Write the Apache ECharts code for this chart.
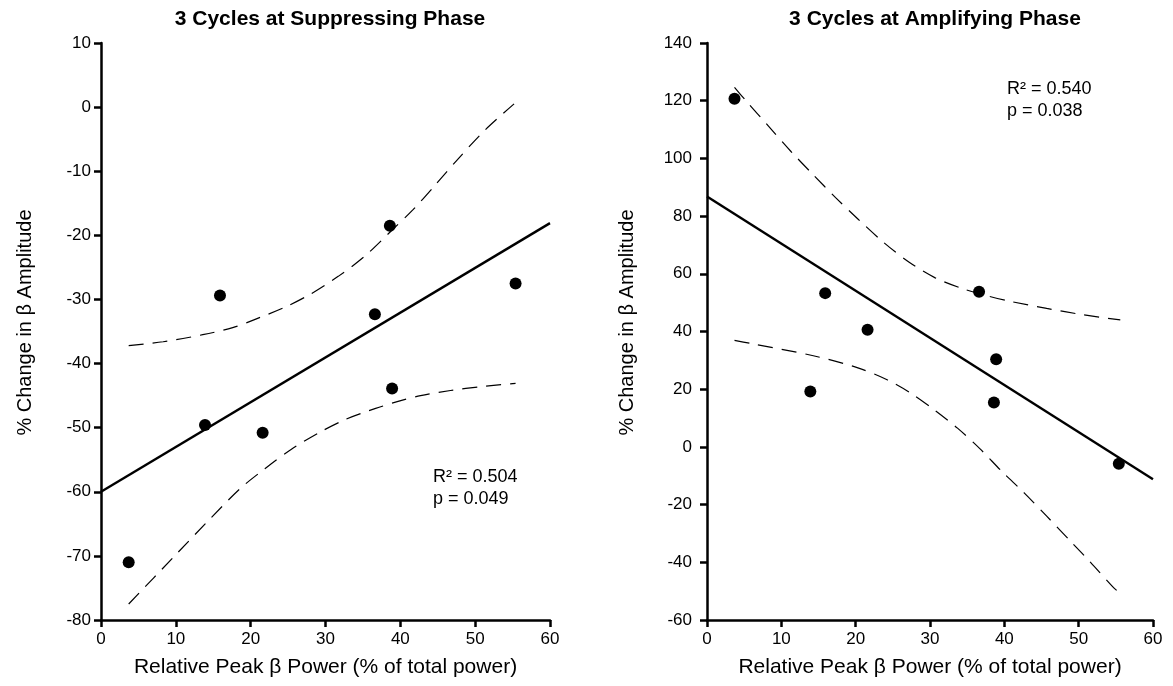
<!DOCTYPE html>
<html><head><meta charset="utf-8">
<script src="https://cdn.jsdelivr.net/npm/echarts@6/dist/echarts.min.js"></script>
<style>html,body{margin:0;padding:0;background:#fff}#c{width:1173px;height:686px}</style>
</head><body><div id="c"></div>
<script>
// shared x values (relative peak beta power, %)
const peakPower = [3.7, 13.9, 15.9, 21.6, 36.6, 38.6, 38.9, 55.4];
// panel 1: suppressing phase
const suppChange = [-71.0, -49.6, -29.4, -50.8, -32.3, -18.5, -43.9, -27.5];
const suppFitX = [0, 60];
const suppFitY = [-60.0, -18.1];
const suppUpperX = [3.7, 8.3, 13.6, 17.6, 20.6, 24.6, 28.1, 31.7, 35.2, 38.7, 41.7, 44.7, 47.7, 51.3, 55.2];
const suppUpperY = [-37.2, -36.6, -35.5, -34.4, -33.1, -31.2, -29.1, -26.4, -23.3, -19.4, -16.0, -12.1, -8.1, -3.6, 0.5];
const suppLowerX = [3.7, 9.6, 14.1, 18.6, 21.9, 25.4, 29.1, 32.7, 36.7, 39.7, 42.7, 46.7, 50.8, 55.4];
const suppLowerY = [-77.5, -70.3, -64.8, -59.5, -56.4, -53.4, -50.8, -48.7, -47.0, -45.9, -45.0, -44.2, -43.6, -43.1];
// panel 2: amplifying phase
const ampChange = [120.7, 19.2, 53.3, 40.6, 53.8, 15.4, 30.4, -5.8];
const ampFitX = [0, 60];
const ampFitY = [86.8, -11.2];
const ampUpperX = [3.7, 5.3, 8.3, 11.3, 14.3, 17.3, 20.3, 23.8, 27.2, 30.7, 34.2, 37.5, 40.7, 45.7, 50.6, 55.6];
const ampUpperY = [124.6, 119.8, 111.1, 102.4, 94.3, 86.4, 79.0, 70.8, 64.0, 58.6, 55.0, 52.5, 50.5, 48.0, 45.8, 44.0];
const ampLowerX = [3.7, 5.8, 14.3, 20.3, 24.3, 27.2, 30.7, 33.7, 36.7, 39.7, 42.7, 45.7, 49.2, 51.6, 54.6, 55.4];
const ampLowerY = [36.9, 35.9, 31.6, 27.4, 23.2, 19.0, 12.6, 6.5, -0.6, -8.6, -16.0, -24.0, -33.5, -40.0, -48.5, -50.4];

const titles = ['3 Cycles at Suppressing Phase', '3 Cycles at Amplifying Phase'];
const xName = 'Relative Peak β Power (% of total power)';
const yName = '% Change in β Amplitude';
const stats = ['R² = 0.504\np = 0.049', 'R² = 0.540\np = 0.038'];

const zip = (a, b) => a.map((v, i) => [v, b[i]]);
const FONT = '"Liberation Sans", Arial, sans-serif';

function xAx(idx) {
  return {
    type: 'value', gridIndex: idx, min: 0, max: 60, interval: 10,
    name: xName, nameLocation: 'middle', nameGap: 37,
    nameTextStyle: { fontFamily: FONT, fontSize: 21, color: '#000' },
    axisLine: { onZero: false, lineStyle: { color: '#000', width: 2.5 } },
    axisTick: { length: 7, lineStyle: { color: '#000', width: 2.5 } },
    axisLabel: { fontFamily: FONT, fontSize: 17, color: '#000', margin: 11 },
    splitLine: { show: false }
  };
}
function yAx(idx, min, max, interval, gap, margin) {
  return {
    type: 'value', gridIndex: idx, min, max, interval,
    name: yName, nameLocation: 'middle', nameGap: gap,
    nameTextStyle: { fontFamily: FONT, fontSize: 20, color: '#000', padding: [0, 0, 0, 18] },
    axisLine: { onZero: false, lineStyle: { color: '#000', width: 2.5 } },
    axisTick: { length: 7, lineStyle: { color: '#000', width: 2.5 } },
    axisLabel: { fontFamily: FONT, fontSize: 17, color: '#000', margin },
    splitLine: { show: false }
  };
}
function panel(idx, ys, fx, fy, ux, uy, lx, ly) {
  const dash = { color: '#000', width: 1.2, type: [15, 9] };
  const band = { type: 'line', xAxisIndex: idx, yAxisIndex: idx, smooth: 0.3, symbol: 'none', lineStyle: dash, silent: true };
  return [
    Object.assign({ data: zip(ux, uy) }, band),
    Object.assign({ data: zip(lx, ly) }, band),
    { type: 'line', xAxisIndex: idx, yAxisIndex: idx, data: zip(fx, fy), symbol: 'none', lineStyle: { color: '#000', width: 2.4 }, silent: true },
    { type: 'scatter', xAxisIndex: idx, yAxisIndex: idx, data: zip(peakPower, ys), symbol: 'circle', symbolSize: 12, itemStyle: { color: '#000', opacity: 1 }, z: 5 }
  ];
}

const chart = echarts.init(document.getElementById('c'), null, { renderer: 'canvas' });
chart.setOption({
  backgroundColor: '#fff',
  animation: false,
  title: [
    { text: titles[0], left: 325, top: 4, textAlign: 'center', textStyle: { fontFamily: FONT, fontSize: 21, fontWeight: 'bold', color: '#000' } },
    { text: titles[1], left: 930, top: 4, textAlign: 'center', textStyle: { fontFamily: FONT, fontSize: 21, fontWeight: 'bold', color: '#000' } }
  ],
  grid: [
    { left: 101, right: 623, top: 43, bottom: 66 },
    { left: 707, right: 20, top: 43, bottom: 66 }
  ],
  xAxis: [xAx(0), xAx(1)],
  yAxis: [yAx(0, -80, 10, 10, 66, 10), yAx(1, -60, 140, 20, 70, 15)],
  series: [
    ...panel(0, suppChange, suppFitX, suppFitY, suppUpperX, suppUpperY, suppLowerX, suppLowerY),
    ...panel(1, ampChange, ampFitX, ampFitY, ampUpperX, ampUpperY, ampLowerX, ampLowerY)
  ],
  graphic: [
    { type: 'text', left: 433, top: 466, style: { text: stats[0], font: '18px ' + FONT, fill: '#000', lineHeight: 22 } },
    { type: 'text', left: 1007, top: 78, style: { text: stats[1], font: '18px ' + FONT, fill: '#000', lineHeight: 22 } }
  ]
});
</script>
</body></html>
